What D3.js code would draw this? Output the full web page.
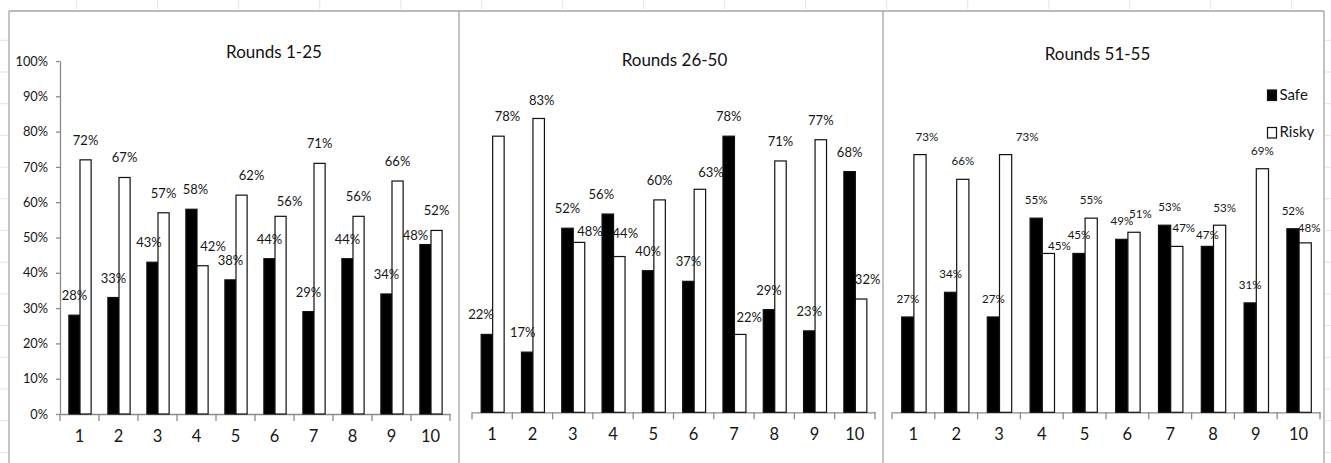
<!DOCTYPE html>
<html>
<head>
<meta charset="utf-8">
<script src="https://cdn.jsdelivr.net/npm/d3@7"></script>
<style>
  html, body { margin: 0; padding: 0; background: #fff; }
  svg { display: block; }
  text { font-family: Lato, "Open Sans", sans-serif; fill: #161616; }
</style>
</head>
<body>
<svg id="chart" width="1331" height="463"></svg>
<script>
// ---- data ----
const categories = ["1", "2", "3", "4", "5", "6", "7", "8", "9", "10"];
const panelTitles = ["Rounds 1-25", "Rounds 26-50", "Rounds 51-55"];
const seriesNames = ["Safe", "Risky"];

const safeRounds1to25   = [28, 33, 43, 58, 38, 44, 29, 44, 34, 48];
const riskyRounds1to25  = [72, 67, 57, 42, 62, 56, 71, 56, 66, 52];
const safeRounds26to50  = [22, 17, 52, 56, 40, 37, 78, 29, 23, 68];
const riskyRounds26to50 = [78, 83, 48, 44, 60, 63, 22, 71, 77, 32];
const safeRounds51to55  = [27, 34, 27, 55, 45, 49, 53, 47, 31, 52];
const riskyRounds51to55 = [73, 66, 73, 45, 55, 51, 47, 53, 69, 48];

const yTickValues = [0, 10, 20, 30, 40, 50, 60, 70, 80, 90, 100];
const yTickLabels = ["0%", "10%", "20%", "30%", "40%", "50%", "60%", "70%", "80%", "90%", "100%"];

// ---- layout ----
const panels = [
  { title: panelTitles[0], safe: safeRounds1to25, risky: riskyRounds1to25,
    x: [60, 450], y: [414, 61], titlePos: [274, 58], yAxis: true,
    labelSize: 13, labelLift: 15 },
  { title: panelTitles[1], safe: safeRounds26to50, risky: riskyRounds26to50,
    x: [472, 875], y: [412.3, 58.3], titlePos: [674.5, 66], yAxis: false,
    labelSize: 13, labelLift: 15 },
  { title: panelTitles[2], safe: safeRounds51to55, risky: riskyRounds51to55,
    x: [892, 1320], y: [412.3, 59.3], titlePos: [1097.5, 59.5], yAxis: false,
    labelSize: 11.6, labelLift: 14, legend: true }
];

// hand-placed data-label offsets [dx, dy], keyed panel-category-series
const labelNudge = {
  "0-3-0": [-3.5, 0], "0-4-0": [4, 0], "0-4-1": [10.5, 0], "0-5-1": [10, 0],
  "0-6-1": [9, 5], "0-10-0": [-10, 10],
  "1-1-0": [-6, 0], "1-1-1": [9, 0], "1-2-0": [-4.5, 0], "1-2-1": [3, 1.5],
  "1-3-1": [11, 8.5], "1-4-0": [-6.5, 0], "1-4-1": [6, -4], "1-6-1": [11, 3],
  "1-7-1": [9, 2.5], "1-10-1": [6.5, 0],
  "2-1-1": [7, 0], "2-3-1": [21.5, 0], "2-4-1": [11, 11], "2-6-1": [6.5, 0],
  "2-7-0": [5, 0], "2-7-1": [7, 0], "2-8-0": [0, 6.5], "2-8-1": [5, 1], "2-10-1": [4, 3]
};

const svg = d3.select("#chart");
const gridColor = "#e0e5ec";
const frameColor = "#a3a3a3";
const axisColor = "#8a8a8a";

// faint worksheet cell gridlines peeking around the chart area
const sheet = svg.append("g").attr("stroke", gridColor).attr("stroke-width", 1);
sheet.selectAll("line.col").data(d3.range(76.7, 1331, 81)).join("line")
  .attr("x1", d => d).attr("x2", d => d).attr("y1", 0).attr("y2", 9);
sheet.selectAll("line.rowL").data(d3.range(40.3, 463, 31.7)).join("line")
  .attr("x1", 0).attr("x2", 8).attr("y1", d => d).attr("y2", d => d);
sheet.selectAll("line.rowR").data(d3.range(40.3, 463, 31.7)).join("line")
  .attr("x1", 1325).attr("x2", 1331).attr("y1", d => d).attr("y2", d => d);

// chart frame
const frame = svg.append("g").attr("stroke", frameColor).attr("stroke-width", 1.3).attr("fill", "none");
frame.append("line").attr("x1", 9).attr("x2", 1324).attr("y1", 11).attr("y2", 11);
[9, 459, 883, 1324].forEach(x =>
  frame.append("line").attr("x1", x).attr("x2", x).attr("y1", 11).attr("y2", 463));

panels.forEach((p, pi) => {
  const g = svg.append("g");
  const x = d3.scaleBand().domain(categories).range(p.x).padding(0);
  const y = d3.scaleLinear().domain([0, 100]).range(p.y);
  const bw = x.bandwidth() * 0.285;
  const sub = d3.scaleBand().domain(seriesNames).range([-bw, bw]);

  // title
  g.append("text")
    .attr("x", p.titlePos[0]).attr("y", p.titlePos[1])
    .attr("text-anchor", "middle")
    .style("font-size", "17px")
    .style("fill", "#111")
    .text(p.title);

  // y axis (first panel only)
  if (p.yAxis) {
    const ya = g.append("g")
      .attr("transform", `translate(${p.x[0]},0)`)
      .call(d3.axisLeft(y).tickValues(yTickValues)
        .tickFormat((d, i) => yTickLabels[i]).tickSize(4).tickSizeOuter(0).tickPadding(8));
    ya.select(".domain").attr("stroke", axisColor).attr("stroke-width", 1.3);
    ya.selectAll(".tick line").attr("stroke", axisColor).attr("stroke-width", 1.3);
    ya.selectAll(".tick text").style("font-size", "12.8px").style("font-family", "Lato, sans-serif")
      .attr("fill", "#161616");
  }

  // x axis: labels centred in bands, ticks at band boundaries
  const xa = g.append("g")
    .attr("transform", `translate(0,${p.y[0]})`)
    .call(d3.axisBottom(x).tickSize(0).tickSizeOuter(0).tickPadding(28));
  xa.select(".domain").attr("stroke", axisColor).attr("stroke-width", 1.3);
  xa.selectAll(".tick text").style("font-size", "16.5px").style("font-family", "Lato, sans-serif")
    .attr("fill", "#161616").attr("dy", "0");
  const bounds = categories.map(c => x(c)).concat([p.x[1]]);
  xa.selectAll("line.bound").data(bounds).join("line")
    .attr("class", "bound")
    .attr("x1", d => d).attr("x2", d => d).attr("y1", 0).attr("y2", 7)
    .attr("stroke", axisColor).attr("stroke-width", 1.3);

  // bars
  const rows = categories.map((c, i) => ({ c, i, vals: [p.safe[i], p.risky[i]] }));
  const groups = g.selectAll("g.cat").data(rows).join("g")
    .attr("class", "cat")
    .attr("transform", d => `translate(${x(d.c) + x.bandwidth() / 2 + 0.5},0)`);

  groups.selectAll("rect").data(d => d.vals.map((v, s) => ({ v, s, i: d.i }))).join("rect")
    .attr("x", d => sub(seriesNames[d.s]))
    .attr("width", sub.bandwidth())
    .attr("y", d => y(d.v))
    .attr("height", d => y(0) - y(d.v))
    .attr("fill", d => d.s === 0 ? "#000" : "#fff")
    .attr("stroke", "#111")
    .attr("stroke-width", 1.2);

  groups.selectAll("text.val").data(d => d.vals.map((v, s) => ({ v, s, i: d.i }))).join("text")
    .attr("class", "val")
    .attr("text-anchor", "middle")
    .style("font-size", p.labelSize + "px")
    .attr("x", d => {
      const n = labelNudge[`${pi}-${d.i + 1}-${d.s}`] || [0, 0];
      return sub(seriesNames[d.s]) + sub.bandwidth() / 2 + n[0];
    })
    .attr("y", d => {
      const n = labelNudge[`${pi}-${d.i + 1}-${d.s}`] || [0, 0];
      return y(d.v) - p.labelLift + n[1];
    })
    .text(d => d.v + "%");

  // legend
  if (p.legend) {
    const lg = g.append("g");
    const items = [{ name: seriesNames[0], fill: "#000", y: 90 }, { name: seriesNames[1], fill: "#fff", y: 127.5 }];
    items.forEach(it => {
      lg.append("rect").attr("x", 1267.5).attr("y", it.y).attr("width", 9).attr("height", 10.5)
        .attr("fill", it.fill).attr("stroke", "#111").attr("stroke-width", 1.2);
      lg.append("text").attr("x", 1279.5).attr("y", it.y + 9.5)
        .style("font-size", "15px").text(it.name);
    });
  }
});
</script>
</body>
</html>
